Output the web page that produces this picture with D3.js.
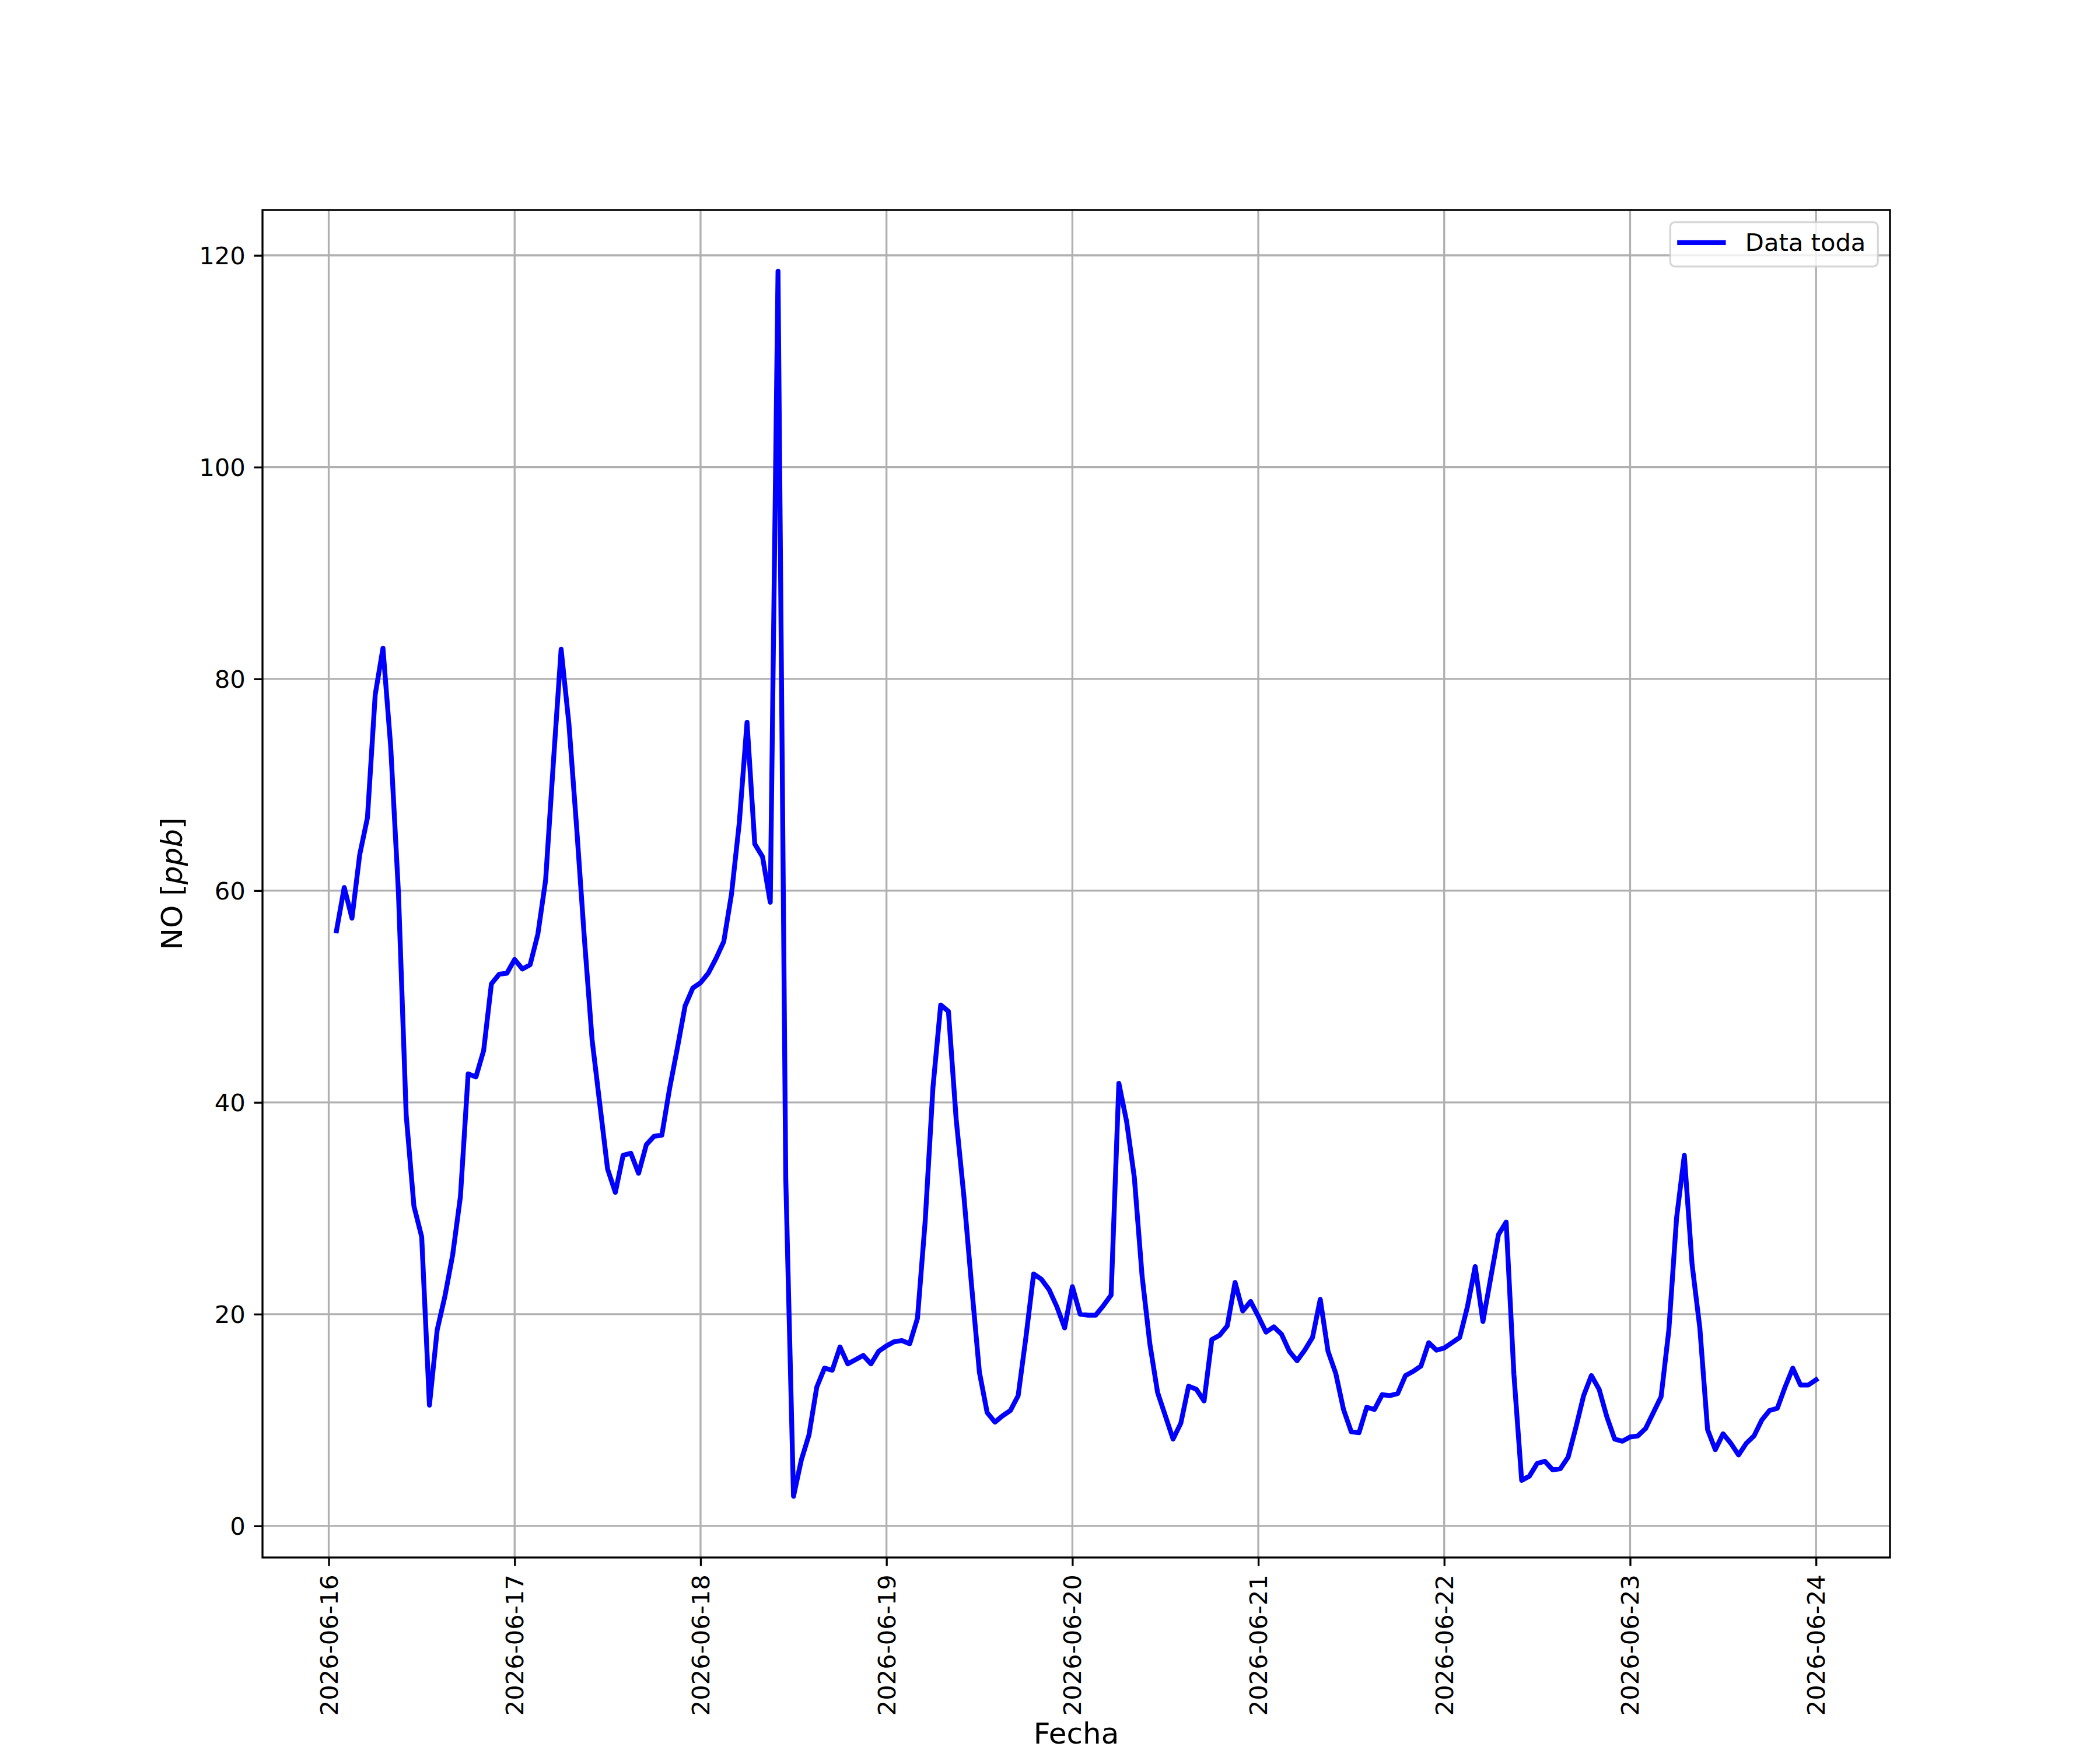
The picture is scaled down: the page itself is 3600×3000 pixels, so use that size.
<!DOCTYPE html>
<html>
<head>
<meta charset="utf-8">
<script src="https://cdn.jsdelivr.net/npm/d3@7"></script>
<style>
  body { margin: 0; background: #ffffff; }
  text { font-family: "DejaVu Sans", sans-serif; }
</style>
</head>
<body>
<div id="chart"></div>
<script>
// NO hourly values, 2026-06-16 01:00 -> 2026-06-24 00:00
var startTime = "2026-06-16T01:00:00Z";
var noValues = [
  56.2, 60.3, 57.4, 63.4, 66.9, 78.5, 82.9, 73.6, 59.8, 38.8, 30.2, 27.3, 11.4, 18.5, 21.7, 25.6, 31.1, 42.7, 42.4, 44.9, 51.2, 52.1, 52.2, 53.5,
  52.6, 53.0, 55.9, 61.0, 72.1, 82.8, 75.8, 66.0, 55.5, 45.9, 39.8, 33.7, 31.5, 35.0, 35.2, 33.3, 36.0, 36.8, 36.9, 41.3, 45.1, 49.1, 50.8, 51.3,
  52.2, 53.6, 55.2, 59.7, 66.4, 75.9, 64.4, 63.2, 58.9, 118.5, 32.8, 2.8, 6.2, 8.6, 13.1, 14.9, 14.7, 16.9, 15.3, 15.7, 16.1, 15.3, 16.5, 17.0,
  17.4, 17.5, 17.2, 19.6, 28.8, 41.4, 49.2, 48.6, 38.4, 31.1, 22.6, 14.5, 10.7, 9.8, 10.4, 10.9, 12.3, 17.8, 23.8, 23.3, 22.3, 20.7, 18.7, 22.6,
  20.0, 19.9, 19.9, 20.8, 21.8, 41.8, 38.2, 32.9, 23.6, 17.2, 12.6, 10.4, 8.2, 9.7, 13.2, 12.9, 11.8, 17.6, 18.0, 18.9, 23.0, 20.3, 21.2, 19.8,
  18.3, 18.8, 18.1, 16.5, 15.6, 16.6, 17.8, 21.4, 16.5, 14.4, 11.0, 8.9, 8.8, 11.2, 11.0, 12.4, 12.3, 12.5, 14.2, 14.6, 15.1, 17.3, 16.6, 16.8,
  17.3, 17.8, 20.7, 24.5, 19.3, 23.4, 27.5, 28.7, 14.3, 4.3, 4.7, 5.9, 6.1, 5.3, 5.4, 6.5, 9.3, 12.3, 14.2, 12.9, 10.3, 8.2, 8.0, 8.4,
  8.5, 9.2, 10.7, 12.2, 18.5, 29.1, 35.0, 24.7, 18.7, 9.1, 7.2, 8.7, 7.8, 6.7, 7.8, 8.5, 10.0, 10.9, 11.1, 13.1, 14.9, 13.3, 13.3, 13.8
];
var xTickLabels = ["2026-06-16", "2026-06-17", "2026-06-18", "2026-06-19", "2026-06-20",
                   "2026-06-21", "2026-06-22", "2026-06-23", "2026-06-24"];
var yTickValues = [0, 20, 40, 60, 80, 100, 120];
var seriesName = "Data toda";

var svgWidth = 3600;
var svgHeight = 3000;
var margin = { top: 360, right: 360, bottom: 330, left: 450 };
var width = svgWidth - margin.left - margin.right;
var height = svgHeight - margin.top - margin.bottom;

var fontPx = 41.67;      // 10pt @ 300dpi
var labelPx = 50;        // 12pt
var thin = 3.33;         // 0.8pt
var lineW = 8.33;        // 2pt
var tickLen = 14.6;

var t0 = new Date(startTime);
var data = noValues.map(function(v, i) {
  return { time: d3.utcHour.offset(t0, i), value: v };
});

var svg = d3.select("#chart")
  .append("svg")
  .attr("width", svgWidth)
  .attr("height", svgHeight);

svg.append("rect")
  .attr("width", svgWidth)
  .attr("height", svgHeight)
  .attr("fill", "#ffffff");

var chartGroup = svg.append("g")
  .attr("transform", `translate(${margin.left}, ${margin.top})`);

// scales with matplotlib-like 5% padding
var xExt = d3.extent(data, function(d) { return d.time; });
var xPad = (xExt[1] - xExt[0]) * 0.05;
var xScale = d3.scaleUtc()
  .domain([new Date(+xExt[0] - xPad), new Date(+xExt[1] + xPad)])
  .range([0, width]);

var yExt = d3.extent(data, function(d) { return d.value; });
var yPad = (yExt[1] - yExt[0]) * 0.05;
var yScale = d3.scaleLinear()
  .domain([yExt[0] - yPad, yExt[1] + yPad])
  .range([height, 0]);

var xTicks = xTickLabels.map(function(s) { return new Date(s + "T00:00:00Z"); });

// grid
chartGroup.append("g").selectAll("line")
  .data(xTicks).enter()
  .append("line")
  .attr("x1", function(d) { return xScale(d); })
  .attr("x2", function(d) { return xScale(d); })
  .attr("y1", 0)
  .attr("y2", height)
  .attr("stroke", "#b0b0b0")
  .attr("stroke-width", thin);

chartGroup.append("g").selectAll("line")
  .data(yTickValues).enter()
  .append("line")
  .attr("x1", 0)
  .attr("x2", width)
  .attr("y1", function(d) { return yScale(d); })
  .attr("y2", function(d) { return yScale(d); })
  .attr("stroke", "#b0b0b0")
  .attr("stroke-width", thin);

// line
var line = d3.line()
  .x(function(d) { return xScale(d.time); })
  .y(function(d) { return yScale(d.value); });

chartGroup.append("path")
  .datum(data)
  .attr("d", line)
  .attr("fill", "none")
  .attr("stroke", "#0000ff")
  .attr("stroke-width", lineW)
  .attr("stroke-linejoin", "round")
  .attr("stroke-linecap", "square");

// spines
chartGroup.append("rect")
  .attr("x", 0)
  .attr("y", 0)
  .attr("width", width)
  .attr("height", height)
  .attr("fill", "none")
  .attr("stroke", "#000000")
  .attr("stroke-width", thin);

// axes
var bottomAxis = d3.axisBottom(xScale)
  .tickValues(xTicks)
  .tickFormat(d3.utcFormat("%Y-%m-%d"))
  .tickSizeInner(tickLen)
  .tickSizeOuter(0)
  .tickPadding(tickLen);

var leftAxis = d3.axisLeft(yScale)
  .tickValues(yTickValues)
  .tickSizeInner(tickLen)
  .tickSizeOuter(0)
  .tickPadding(tickLen);

var xAxisG = chartGroup.append("g")
  .attr("transform", `translate(0, ${height})`)
  .call(bottomAxis);

var yAxisG = chartGroup.append("g")
  .call(leftAxis);

[xAxisG, yAxisG].forEach(function(g) {
  g.select(".domain").remove();
  g.selectAll(".tick line").attr("stroke", "#000000").attr("stroke-width", thin);
  g.selectAll(".tick text")
    .attr("fill", "#000000")
    .style("font-family", "'DejaVu Sans', sans-serif")
    .style("font-size", fontPx + "px");
});

xAxisG.selectAll(".tick text")
  .attr("y", null)
  .attr("dy", null)
  .attr("text-anchor", "end")
  .attr("dominant-baseline", "central")
  .attr("transform", `translate(0, ${tickLen * 2}) rotate(-90)`);

yAxisG.selectAll(".tick text")
  .attr("dy", "0.36em");

// axis labels
chartGroup.append("text")
  .attr("x", width / 2)
  .attr("y", svgHeight - margin.top - 11)
  .attr("text-anchor", "middle")
  .style("font-size", labelPx + "px")
  .text("Fecha");

var yLabel = chartGroup.append("text")
  .attr("transform", `translate(${312 - margin.left}, ${height / 2}) rotate(-90)`)
  .attr("text-anchor", "middle")
  .style("font-size", labelPx + "px");
yLabel.append("tspan").text("NO [");
yLabel.append("tspan").style("font-style", "italic").text("ppb");
yLabel.append("tspan").text("]");

// legend
var legendW = 356, legendH = 76;
var legend = chartGroup.append("g")
  .attr("transform", `translate(${width - 20.8 - legendW}, 20.8)`);

legend.append("rect")
  .attr("width", legendW)
  .attr("height", legendH)
  .attr("rx", 8)
  .attr("fill", "#ffffff")
  .attr("fill-opacity", 0.8)
  .attr("stroke", "#cccccc")
  .attr("stroke-opacity", 0.8)
  .attr("stroke-width", thin);

legend.append("line")
  .attr("x1", 12)
  .attr("x2", 12 + 2 * fontPx)
  .attr("y1", 35)
  .attr("y2", 35)
  .attr("stroke", "#0000ff")
  .attr("stroke-width", lineW);

legend.append("text")
  .attr("x", 12 + 2.8 * fontPx)
  .attr("y", 49.5)
  .style("font-size", fontPx + "px")
  .text(seriesName);
</script>
</body>
</html>
